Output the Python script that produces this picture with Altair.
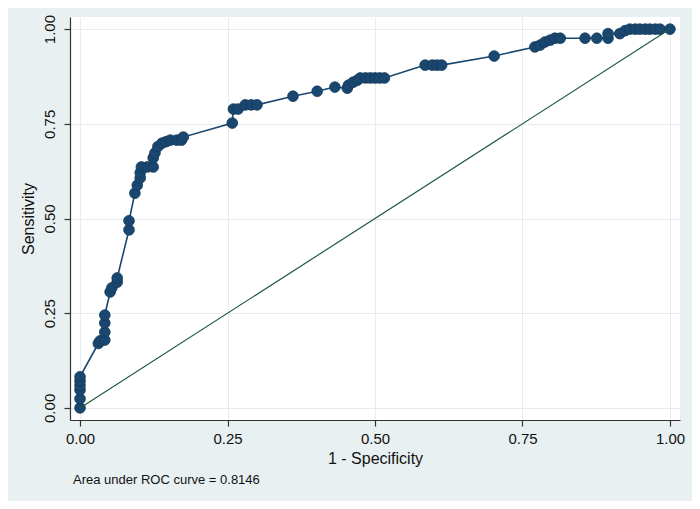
import altair as alt
import pandas as pd

# ROC curve points (1 - specificity, sensitivity)
fpr = [0.000, 0.000, 0.000, 0.000, 0.000, 0.000,
       0.031, 0.034, 0.042, 0.042, 0.042, 0.042,
       0.051, 0.054, 0.063, 0.063,
       0.083, 0.083,
       0.093, 0.097, 0.102, 0.102, 0.104, 0.114, 0.124, 0.124, 0.127,
       0.132, 0.139, 0.146, 0.153, 0.164, 0.172, 0.175,
       0.258, 0.260, 0.268, 0.280, 0.290, 0.300,
       0.361, 0.402, 0.432, 0.453, 0.455, 0.463, 0.470,
       0.475, 0.484, 0.492, 0.500, 0.508, 0.516,
       0.585, 0.597, 0.605, 0.613,
       0.702,
       0.771, 0.780, 0.788, 0.797, 0.805, 0.814,
       0.856, 0.876, 0.895, 0.895, 0.915, 0.924,
       0.932, 0.941, 0.949, 0.958, 0.966, 0.975, 0.983,
       1.000]
tpr = [0.000, 0.024, 0.047, 0.059, 0.071, 0.082,
       0.170, 0.177, 0.179, 0.200, 0.224, 0.245,
       0.306, 0.317, 0.332, 0.343,
       0.470, 0.494,
       0.567, 0.588, 0.607, 0.621, 0.636, 0.636, 0.636, 0.660, 0.673,
       0.690, 0.699, 0.703, 0.707, 0.707, 0.707, 0.715,
       0.752, 0.789, 0.789, 0.800, 0.800, 0.800,
       0.823, 0.836, 0.847, 0.844, 0.852, 0.860, 0.865,
       0.871, 0.871, 0.871, 0.871, 0.871, 0.871,
       0.905, 0.905, 0.905, 0.905,
       0.929,
       0.953, 0.958, 0.966, 0.971, 0.976, 0.976,
       0.976, 0.976, 0.976, 0.988, 0.988, 0.996,
       1.000, 1.000, 1.000, 1.000, 1.000, 1.000, 1.000,
       1.000]

ref_x = [0.0, 1.0]
ref_y = [0.0, 1.0]
tick_values = [0.0, 0.25, 0.5, 0.75, 1.0]
x_title = "1 - Specificity"
y_title = "Sensitivity"
note = "Area under ROC curve = 0.8146"

NAVY = "#1a476f"
GREEN = "#1d5a40"
FONT = "Liberation Sans"

roc = pd.DataFrame({"fpr": fpr, "tpr": tpr, "idx": list(range(len(fpr)))})
ref = pd.DataFrame({"fpr": ref_x, "tpr": ref_y, "idx": [0, 1]})
notes = pd.DataFrame({"t": [note]})

xscale = alt.Scale(domain=[-0.017, 1.017], nice=False, zero=False)
yscale = alt.Scale(domain=[-0.032, 1.032], nice=False, zero=False)

xaxis = alt.Axis(values=tick_values, format=".2f", title=x_title,
                 labelFontSize=15, titleFontSize=16, labelPadding=5,
                 titlePadding=4, tickSize=6)
yaxis = alt.Axis(values=tick_values, format=".2f", title=y_title,
                 labelFontSize=15, titleFontSize=16, labelAngle=270,
                 labelAlign="center", labelBaseline="bottom",
                 labelPadding=7, titlePadding=6, tickSize=6)

X = alt.X("fpr:Q", scale=xscale, axis=xaxis)
Y = alt.Y("tpr:Q", scale=yscale, axis=yaxis)

line = alt.Chart(roc).mark_line(color=NAVY, strokeWidth=1.6).encode(
    x=X, y=Y, order="idx:Q")
pts = alt.Chart(roc).mark_point(filled=True, color=NAVY, size=115, opacity=1,
                                stroke="#143a5c", strokeWidth=0.8).encode(
    x=X, y=Y)
diag = alt.Chart(ref).mark_line(color=GREEN, strokeWidth=1.2).encode(
    x=X, y=Y, order="idx:Q")
txt = alt.Chart(notes).mark_text(align="left", baseline="middle",
                                 fontSize=13, font=FONT, color="#111111").encode(
    text="t:N", x=alt.value(3), y=alt.value(463))

chart = alt.layer(line, pts, diag, txt).properties(
    width=610, height=403,
    padding={"left": 62, "top": 9, "right": 12, "bottom": 81},
    autosize=alt.AutoSizeParams(type="none"),
    background="#e9f0f2",
).configure_view(
    fill="white", stroke=None
).configure_axis(
    grid=True, gridColor="#e6ecef", gridWidth=1,
    domainColor="#333333", domainWidth=1.2,
    tickColor="#333333", tickWidth=1.2,
    labelColor="#111111", titleColor="#111111",
    labelFont=FONT, titleFont=FONT, titleFontWeight="normal",
)

chart.save("out.html", embed_options={"renderer": "svg", "actions": False})
